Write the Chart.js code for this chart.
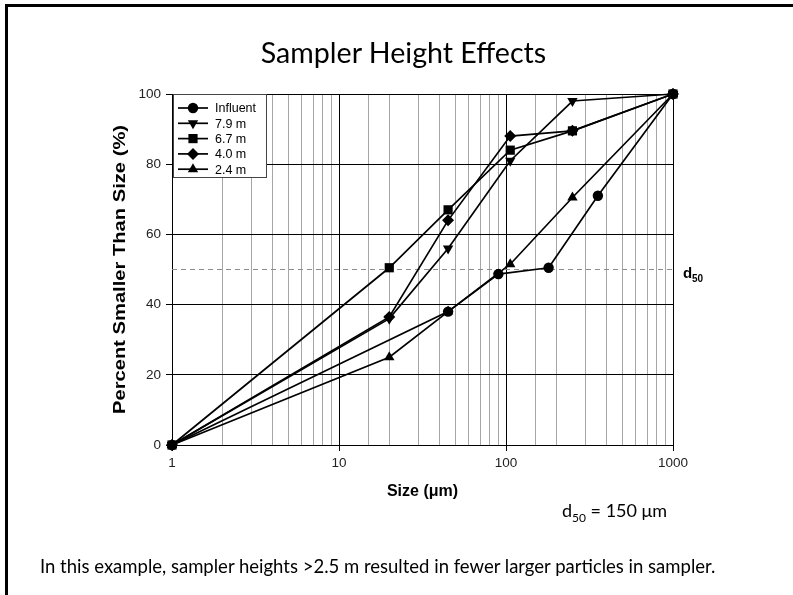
<!DOCTYPE html>
<html>
<head>
<meta charset="utf-8">
<script src="https://cdn.jsdelivr.net/npm/chart.js@4.4.1/dist/chart.umd.min.js"></script>
<style>
  html, body { margin: 0; padding: 0; background: #fff; }
  #page { position: relative; width: 793px; height: 595px; overflow: hidden; }
  #frame { position: absolute; left: 5px; top: 4px; right: -10px; bottom: -10px;
           border-left: 3px solid #000; border-top: 3px solid #000; }
  canvas { position: absolute; left: 0; top: 0; }
  .txt { position: absolute; font-family: Lato, 'Open Sans', sans-serif; color: #000;
         white-space: nowrap; line-height: 1; }
  .sub { font-size: 12px; position: relative; top: 5px; }
</style>
</head>
<body>
<div id="page">
  <div id="frame"></div>
  <canvas id="plots" width="793" height="595"></canvas>
  <div class="txt" style="left:7px; width:793px; text-align:center; top:38px; font-size:28.6px;">Sampler Height Effects</div>
  <div class="txt" style="left:562px; top:501px; font-size:18px;">d<span class="sub">50</span> = 150 μm</div>
  <div class="txt" style="left:40px; top:557px; font-size:18.5px;">In this example, sampler heights &gt;2.5 m resulted in fewer larger particles in sampler.</div>
</div>

<script>
// dados
const seriesNames = ['Influent', '7.9 m', '6.7 m', '4.0 m', '2.4 m']
const influentSize = [1, 45, 90, 180, 355, 1000]
const influentPct = [0, 38, 48.7, 50.5, 71, 100]
const sieveSize = [1, 20, 45, 106, 250, 1000]
const h79Pct = [0, 36, 56, 81, 98, 100]
const h67Pct = [0, 50.5, 67, 84, 89.5, 100]
const h40Pct = [0, 36.5, 64, 88, 89.5, 100]
const h24Pct = [0, 25, 38, 51.5, 70.5, 100]
const d50Size = [1, 1000]
const d50Pct = [50, 50]
const xTickLabels = [1, 10, 100, 1000]
const yTicks = [0, 20, 40, 60, 80, 100]

// estilo dos marcadores
const marcadores = ['circle', 'triangle', 'rect', 'rectRot', 'triangle']
const rotacoes = [0, 180, 0, 0, 0]
const raios = [5.2, 6, 6.5, 6, 6]

function pares(xs, ys) {
  return xs.map((x, i) => ({ x: x, y: ys[i] }))
}

const seriesData = [
  pares(influentSize, influentPct),
  pares(sieveSize, h79Pct),
  pares(sieveSize, h67Pct),
  pares(sieveSize, h40Pct),
  pares(sieveSize, h24Pct)
]

const datasets = seriesData.map((d, i) => ({
  label: seriesNames[i],
  data: d,
  borderColor: '#000',
  backgroundColor: '#000',
  borderWidth: 1.7,
  pointStyle: marcadores[i],
  pointRotation: rotacoes[i],
  pointRadius: raios[i],
  pointBorderWidth: 0,
  tension: 0,
  clip: false
}))

datasets.push({
  label: 'd50',
  data: pares(d50Size, d50Pct),
  borderColor: '#8c8c8c',
  borderWidth: 1,
  borderDash: [5, 4],
  pointRadius: 0,
  clip: false
})

const isMajor = v => Math.abs(Math.log10(v) - Math.round(Math.log10(v))) < 1e-6

const extras = {
  id: 'extras',
  afterDraw(chart) {
    const ctx = chart.ctx
    const area = chart.chartArea
    const y = chart.scales.y
    ctx.save()

    // legenda
    const lx = area.left + 1, ly = area.top
    ctx.fillStyle = '#fff'
    ctx.fillRect(lx, ly, 93, 83)
    ctx.strokeStyle = '#444'
    ctx.lineWidth = 1
    ctx.strokeRect(lx + 0.5, ly + 0.5, 93, 83)
    ctx.font = '12.5px Arial, "Liberation Sans", sans-serif'
    ctx.textBaseline = 'middle'
    seriesNames.forEach((nome, i) => {
      const yy = ly + 14 + i * 15.3
      ctx.strokeStyle = '#000'
      ctx.lineWidth = 1.7
      ctx.beginPath()
      ctx.moveTo(lx + 5, yy)
      ctx.lineTo(lx + 35, yy)
      ctx.stroke()
      ctx.fillStyle = '#000'
      Chart.helpers.drawPoint(ctx, { pointStyle: marcadores[i], radius: raios[i], rotation: rotacoes[i], borderWidth: 0 }, lx + 20, yy)
      ctx.fillStyle = '#000'
      ctx.fillText(nome, lx + 42, yy + 1)
    })

    // titulos dos eixos
    const cx = (area.left + area.right) / 2
    const cy = (area.top + area.bottom) / 2
    ctx.fillStyle = '#000'
    ctx.textAlign = 'center'
    ctx.textBaseline = 'middle'
    ctx.font = 'bold 16px Arial, "Liberation Sans", sans-serif'
    ctx.fillText('Size (μm)', cx, 492)
    ctx.save()
    ctx.translate(121, cy)
    ctx.rotate(-Math.PI / 2)
    ctx.scale(1.26, 1)   // o titulo vertical aparece esticado
    ctx.fillText('Percent Smaller Than Size (%)', 0, 0)
    ctx.restore()

    // rotulo d50
    const y50 = y.getPixelForValue(50)
    ctx.textAlign = 'left'
    ctx.textBaseline = 'alphabetic'
    ctx.font = 'bold 15px Arial, "Liberation Sans", sans-serif'
    ctx.fillText('d', area.right + 10, y50 + 8)
    ctx.font = 'bold 10px Arial, "Liberation Sans", sans-serif'
    ctx.fillText('50', area.right + 19, y50 + 12)
    ctx.restore()
  }
}

const grafico = new Chart(document.getElementById('plots'), {
  type: 'line',
  data: { datasets: datasets },
  options: {
    responsive: false,
    animation: false,
    layout: { padding: { left: 0, top: 94, right: 120, bottom: 0 } },
    plugins: { legend: { display: false }, tooltip: { enabled: false } },
    scales: {
      x: {
        type: 'logarithmic',
        min: 1,
        max: 1000,
        afterFit(scale) { scale.height = 150 },
        border: { color: '#000', width: 1 },
        grid: {
          color: c => isMajor(c.tick.value) ? '#000' : '#a6a6a6',
          tickColor: c => isMajor(c.tick.value) ? '#000' : 'rgba(0,0,0,0)',
          tickLength: 6,
          lineWidth: 1
        },
        ticks: {
          autoSkip: false,
          maxRotation: 0,
          padding: 4,
          color: '#222',
          font: { family: 'Arial, "Liberation Sans", sans-serif', size: 13.5 },
          callback: v => xTickLabels.includes(v) ? String(v) : ''
        }
      },
      y: {
        min: 0,
        max: 100,
        afterFit(scale) { scale.width = 172 },
        afterBuildTicks(scale) { scale.ticks = yTicks.map(v => ({ value: v })) },
        border: { color: '#000', width: 1 },
        grid: { color: '#000', tickColor: '#000', tickLength: 6, lineWidth: 1 },
        ticks: {
          padding: 5,
          color: '#222',
          font: { family: 'Arial, "Liberation Sans", sans-serif', size: 13.5 }
        }
      }
    }
  },
  plugins: [extras]
})
</script>
</body>
</html>
